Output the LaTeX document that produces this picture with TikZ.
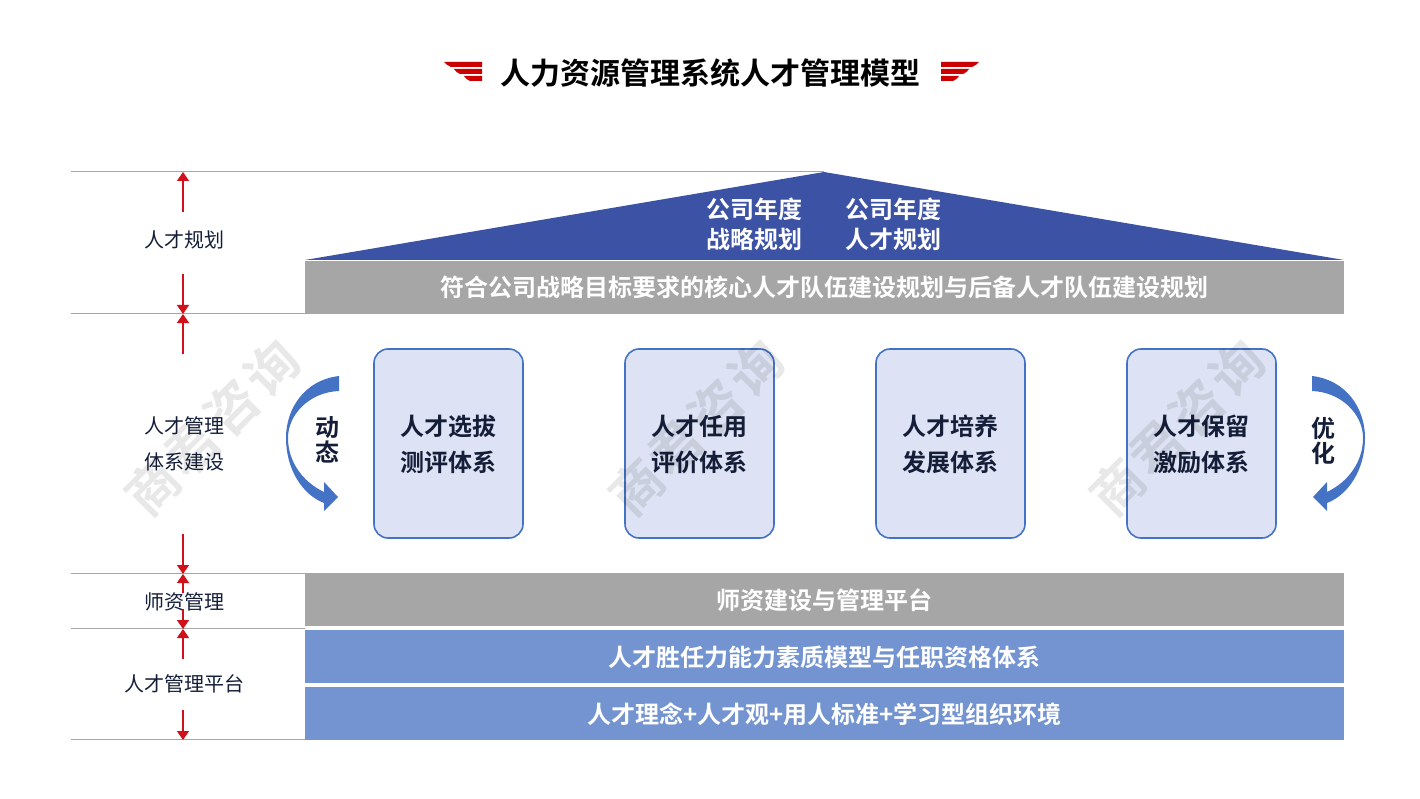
\documentclass[tikz,border=0pt]{standalone}
\usepackage{fontspec}
\setmainfont{Noto Sans CJK SC}
\newfontfamily\boldcjk{Noto Sans CJK SC Bold}
\newfontfamily\markcjk[LetterSpace=8]{Noto Sans CJK SC Bold}
\usetikzlibrary{arrows.meta,positioning}
\definecolor{roofblue}{HTML}{3C52A4}
\definecolor{bargrey}{HTML}{A6A6A6}
\definecolor{barblue}{HTML}{7394D0}
\definecolor{boxfill}{HTML}{DDE3F4}
\definecolor{boxline}{HTML}{4472C4}
\definecolor{inkdark}{HTML}{141E38}
\definecolor{rulered}{HTML}{D0101A}
\definecolor{wingred}{HTML}{CC0000}
\tikzset{
    sidelabel/.style={text=inkdark,align=center,font=\fontsize{20}{36}\selectfont},
    barnode/.style={minimum width=1039pt,minimum height=53pt,inner sep=0pt,text height=22pt,text depth=2pt,text=white,font=\boldcjk\fontsize{24}{30}\selectfont},
    roofnode/.style={text=white,align=center,font=\boldcjk\fontsize{24}{30}\selectfont},
    sysbox/.style={draw=boxline,line width=1.6pt,fill=boxfill,rounded corners=14pt,minimum width=149pt,minimum height=189pt,inner sep=0pt},
    systext/.style={text=inkdark,align=center,font=\boldcjk\fontsize{24}{36}\selectfont},
    sidenote/.style={text=inkdark,align=center,font=\boldcjk\fontsize{24}{25}\selectfont},
    levelline/.style={draw=bargrey,line width=1pt},
    levelarrow/.style={draw=rulered,line width=1.5pt,-{Triangle[length=9pt,width=12pt]}},
    watermark/.style={rotate=45,opacity=0.09,text=black,font=\markcjk\fontsize{52}{52}\selectfont},
}
\begin{document}
\begin{tikzpicture}[x=1pt,y=-1pt]
    \useasboundingbox (0,0) rectangle (1420,799);

    \node [font=\boldcjk\fontsize{30}{36}\selectfont] (title) at (710.3,72.6) {人力资源管理系统人才管理模型};
    \foreach \m/\c in {0/1,1423/-1} {
        \begin{scope}[shift={(\m,0)},xscale=\c]
            \fill [wingred] (444,62) -- (482,62) -- (482,67) -- (451,67) .. controls (448,66) and (446,64) .. cycle;
            \fill [wingred] (454,69) -- (482,69) -- (482,74) -- (460,74) .. controls (457,73) and (455.5,71) .. cycle;
            \fill [wingred] (464,76) -- (482,76) -- (482,81) -- (470,81) .. controls (467,80) and (465.5,78) .. cycle;
        \end{scope}
    }

    \coordinate (top) at (71,171.5);
    \coordinate (apex) at (824,171.5);
    \coordinate (lineA) at (71,313.5);
    \coordinate (lineAend) at (305,313.5);
    \coordinate (lineB) at (71,573.5);
    \coordinate (lineBend) at (305,573.5);
    \coordinate (lineC) at (71,628.5);
    \coordinate (lineCend) at (305,628.5);
    \coordinate (lineD) at (71,739.5);
    \coordinate (lineDend) at (305,739.5);
    \draw [levelline] (top) -- (apex);
    \draw [levelline] (lineA) -- (lineAend);
    \draw [levelline] (lineB) -- (lineBend);
    \draw [levelline] (lineC) -- (lineCend);
    \draw [levelline] (lineD) -- (lineDend);

    \fill [roofblue] (305,260) -- (824,172) -- (1344,260) -- cycle;
    \node [roofnode] (roofL) at (754,224) {公司年度\\战略规划};
    \node [roofnode] (roofR) at (893,224) {公司年度\\人才规划};

    \node [barnode,fill=bargrey,text height=21pt,text depth=3pt] (barA) at (824.5,287.5) {符合公司战略目标要求的核心人才队伍建设规划与后备人才队伍建设规划};
    \node [barnode,fill=bargrey] (barB) at (824.5,599.5) {师资建设与管理平台};
    \node [barnode,fill=barblue] (barC) at (824.5,656.5) {人才胜任力能力素质模型与任职资格体系};
    \node [barnode,fill=barblue] (barD) at (824.5,713.5) {人才理念+人才观+用人标准+学习型组织环境};

    \node [sysbox] (sysA) at (448.5,443.5) {};
    \node [sysbox] (sysB) at (699.5,443.5) {};
    \node [sysbox] (sysC) at (950.5,443.5) {};
    \node [sysbox] (sysD) at (1201.5,443.5) {};
    \node [systext] (textA) at ([yshift=-1pt]sysA.center) {人才选拔\\测评体系};
    \node [systext] (textB) at ([yshift=-1pt]sysB.center) {人才任用\\评价体系};
    \node [systext] (textC) at ([yshift=-1pt]sysC.center) {人才培养\\发展体系};
    \node [systext] (textD) at ([yshift=-1pt]sysD.center) {人才保留\\激励体系};

    \foreach \m/\c in {0/1,1651/-1} {
        \fill [boxline,shift={(\m,0)},xscale=\c] (339,376) .. controls (305,380) and (286,408) .. (286,438)
            .. controls (286,470) and (303,495) .. (324,503) -- (324,511) -- (338,497) -- (324,482) -- (324,492)
            .. controls (303,482) and (288,462) .. (288,438) .. controls (288,414) and (310,392) .. (339,391) -- cycle;
    }
    \node [sidenote] (dyn) at (327.3,439.5) {动\\态};
    \node [sidenote] (opt) at (1323,440.5) {优\\化};

    \node [sidelabel] (plan) at (184,240) {人才规划};
    \node [sidelabel] (build) at (184,444) {人才管理\\体系建设};
    \node [sidelabel] (teach) at (184,602) {师资管理};
    \node [sidelabel] (base) at (184,684) {人才管理平台};

    \coordinate (upA) at (183,212);
    \coordinate (upAend) at (183,172);
    \coordinate (dnA) at (183,274);
    \coordinate (dnAend) at (183,314);
    \coordinate (upB) at (183,354);
    \coordinate (upBend) at (183,314);
    \coordinate (dnB) at (183,534);
    \coordinate (dnBend) at (183,574);
    \coordinate (upC) at (183,593);
    \coordinate (upCend) at (183,574);
    \coordinate (dnC) at (183,609);
    \coordinate (dnCend) at (183,629);
    \coordinate (upD) at (183,659);
    \coordinate (upDend) at (183,629);
    \coordinate (dnD) at (183,710);
    \coordinate (dnDend) at (183,740);
    \draw [levelarrow] (upA) -- (upAend);
    \draw [levelarrow] (dnA) -- (dnAend);
    \draw [levelarrow] (upB) -- (upBend);
    \draw [levelarrow] (dnB) -- (dnBend);
    \draw [levelarrow] (upC) -- (upCend);
    \draw [levelarrow] (dnC) -- (dnCend);
    \draw [levelarrow] (upD) -- (upDend);
    \draw [levelarrow] (dnD) -- (dnDend);

    \node [watermark] (markA) at (212,428) {商君咨询};
    \node [watermark] (markB) at (696,428) {商君咨询};
    \node [watermark] (markC) at (1177,428) {商君咨询};
\end{tikzpicture}
\end{document}
